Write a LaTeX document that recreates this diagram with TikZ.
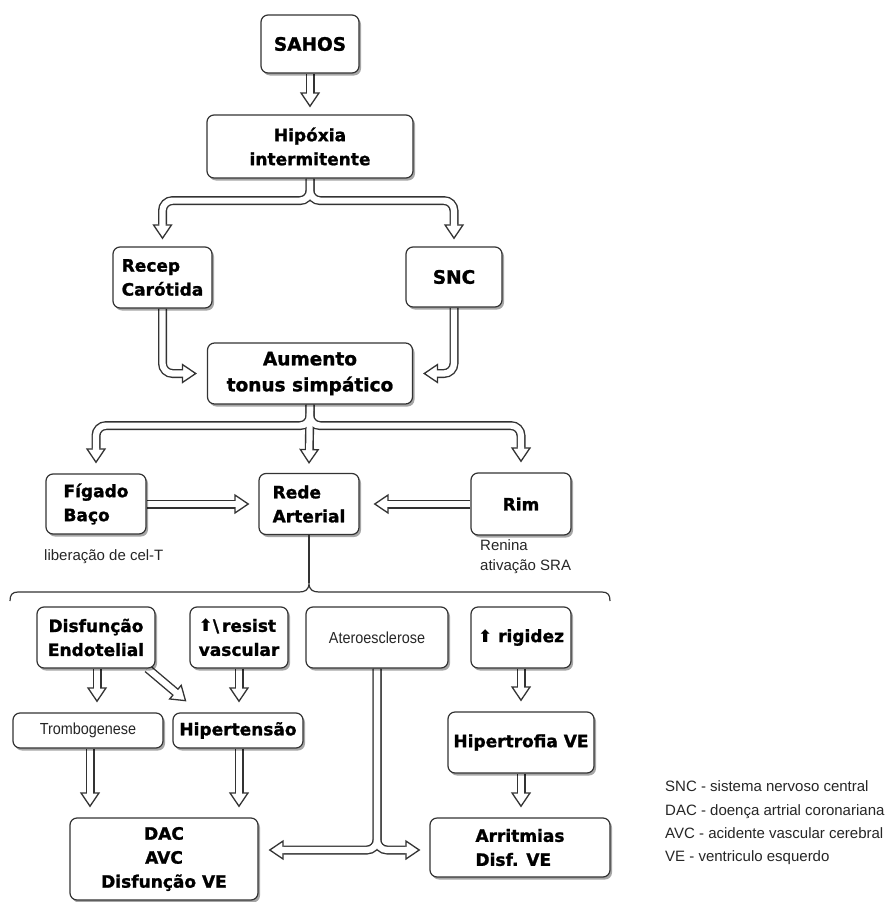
\documentclass[tikz,border=0pt]{standalone}
\usepackage{fontspec}
\setmainfont{DejaVu Sans}[BoldFeatures={FakeBold=1.3}]
\newfontfamily\arialf{Liberation Sans}
\newfontfamily\arialn{Liberation Sans}[FakeStretch=0.9]
\newfontfamily\symf{DejaVu Sans}
\usetikzlibrary{arrows.meta,shadows,calc}
\pgfdeclarelayer{bgzero}
\pgfdeclarelayer{arrowlayer}
\pgfsetlayers{bgzero,arrowlayer,main}
\tikzset{
  box/.style={draw=black!80, line width=1.2pt, rounded corners=7pt, fill=white, inner sep=0pt, align=center,
     drop shadow={opacity=0.35, shadow xshift=2pt, shadow yshift=-2.5pt, fill=black}},
  bt/.style={font=\bfseries\fontsize{17}{24}\selectfont},
  btbig/.style={font=\bfseries\fontsize{18.5}{26}\selectfont},
  rt/.style={font=\arialn\fontsize{16}{20}\selectfont, text=black!85},
  lt/.style={font=\arialf\fontsize{15}{20}\selectfont, text=black!85, inner sep=0pt},
  fatout/.style={line width=9pt, draw=black!80, rounded corners=10pt,
     -{Triangle[length=15pt,width=20pt,fill=white,line width=1.3pt]}},
  fatin/.style={line width=6.2pt, draw=white, rounded corners=10pt, shorten >=13pt},
  thinline/.style={line width=1.2pt, draw=black!80},
}
\newcommand\fat[1]{\draw[fatout] #1; \draw[fatin] #1;}
\newcommand\fattwo[2]{\draw[fatout] #1; \draw[fatout] #2; \draw[fatin] #1; \draw[fatin] #2;}
\newcommand\fatthree[3]{\draw[fatout] #1; \draw[fatout] #2; \draw[fatout] #3;
  \draw[fatin] #1; \draw[fatin] #2; \draw[fatin] #3;}
\begin{document}
\begin{tikzpicture}[x=1pt,y=-1pt]
\begin{pgfonlayer}{bgzero}
\fill[white] (0,0) rectangle (890,902);
\end{pgfonlayer}
\useasboundingbox (0,0) rectangle (890,902);

% nodes
\node[box,btbig,minimum width=98pt,minimum height=58pt] (sahos) at (310,44) {SAHOS};
\node[box,bt,minimum width=206pt,minimum height=63pt] (hip) at (310,146.5) {Hipóxia\\intermitente};
\node[box,bt,align=left,minimum width=99pt,minimum height=61pt] (recep) at (162.5,277.5) {Recep\\Carótida};
\node[box,btbig,minimum width=96pt,minimum height=60pt] (snc) at (454,277) {SNC};
\node[box,btbig,minimum width=205pt,minimum height=61pt] (aum) at (310,373.5) {Aumento\\tonus simpático};
\node[box,bt,align=left,minimum width=100pt,minimum height=60pt] (fig) at (96,504) {Fígado\\Baço};
\node[box,bt,align=left,minimum width=100pt,minimum height=61pt] (rede) at (309,504) {Rede\\Arterial};
\node[box,bt,minimum width=100pt,minimum height=62pt] (rim) at (521,504) {Rim};
\node[lt,anchor=west] (lib) at (44,557) {liberação de cel-T};
\node[lt,anchor=west,align=left] (ren) at (480,557) {Renina\\ativação SRA};

\node[box,bt,minimum width=118pt,minimum height=61pt] (disf) at (96,637.5) {Disfunção\\Endotelial};
\node[box,bt,align=left,minimum width=98pt,minimum height=61pt] (resist) at (239,637.5) {{\symf ⬆}\textbackslash\,resist\\vascular};
\node[box,rt,minimum width=142pt,minimum height=61pt] (atero) at (377,637.5) {Ateroesclerose};
\node[box,bt,minimum width=100pt,minimum height=61pt] (rig) at (521,637.5) {{\symf ⬆} rigidez};
\node[box,rt,minimum width=150pt,minimum height=35pt] (trombo) at (88,730.5) {Trombogenese};
\node[box,bt,minimum width=130pt,minimum height=35pt] (hipert) at (238,730.5) {Hipertensão};
\node[box,bt,minimum width=146pt,minimum height=61pt] (hve) at (521,742.5) {Hipertrofia VE};
\node[box,bt,minimum width=188pt,minimum height=82pt] (dac) at (164,859) {DAC\\AVC\\Disfunção VE};
\node[box,bt,align=left,minimum width=180pt,minimum height=59pt] (arr) at (520,847.5) {Arritmias\\Disf. VE};

\node[font=\arialf\fontsize{15}{23.3}\selectfont, text=black!85, align=left, anchor=west, inner sep=0pt] (legend) at (665,823)
 {SNC - sistema nervoso central\\DAC - doença artrial coronariana\\AVC - acidente vascular cerebral\\VE - ventriculo esquerdo};

% brace under Rede Arterial
\coordinate (btip) at (309,583);
\draw[thinline] (rede.south) -- (btip);
\draw[thinline] (10,601) .. controls (10,595) and (12,592) .. (18,592) -- (299,592)
  .. controls (305,592) and (309,590) .. (btip) .. controls (309,590) and (313,592) .. (319,592)
  -- (602,592) .. controls (608,592) and (610,595) .. (610,601);

\coordinate (atsplit) at (377,850);

\begin{pgfonlayer}{arrowlayer}
\fat{(sahos.south) -- ([yshift=7pt]hip.north)}
\fattwo{(hip.south) -- +(0,22) -| ([yshift=7pt]recep.north)}
       {(hip.south) -- +(0,22) -| ([yshift=7pt]snc.north)}
\fat{(recep.south) |- ([xshift=-10pt]aum.west)}
\fat{(snc.south) |- ([xshift=10pt]aum.east)}
\fatthree{(aum.south) -- +(0,21) -| ([yshift=10pt]fig.north)}
         {(aum.south) -- ([yshift=9pt]rede.north)}
         {(aum.south) -- +(0,21) -| ([yshift=10pt]rim.north)}
\fat{(fig.east) -- ([xshift=-9pt]rede.west)}
\fat{(rim.west) -- ([xshift=14pt]rede.east)}
\fat{([xshift=1pt]disf.south) -- ($([xshift=1pt]disf.south |- trombo.north)+(0,-10)$)}
\fat{([xshift=-8pt]disf.south east) -- ($(hipert.north west)+(14,-11)$)}
\fat{(resist.south) -- ($(resist.south |- hipert.north)+(0,-10)$)}
\fat{([xshift=2pt]trombo.south) -- ($([xshift=2pt]trombo.south |- dac.north)+(0,-10)$)}
\fat{([xshift=1pt]hipert.south) -- ($([xshift=1pt]hipert.south |- dac.north)+(0,-10)$)}
\fattwo{(atero.south) -- (atsplit) -- ($(dac.east |- atsplit)+(10,0)$)}
       {(atero.south) -- (atsplit) -- ($(arr.west |- atsplit)+(-9,0)$)}
\fat{(rig.south) -- ($(rig.south |- hve.north)+(0,-10)$)}
\fat{(hve.south) -- ($(hve.south |- arr.north)+(0,-10)$)}
\end{pgfonlayer}
\end{tikzpicture}
\end{document}
